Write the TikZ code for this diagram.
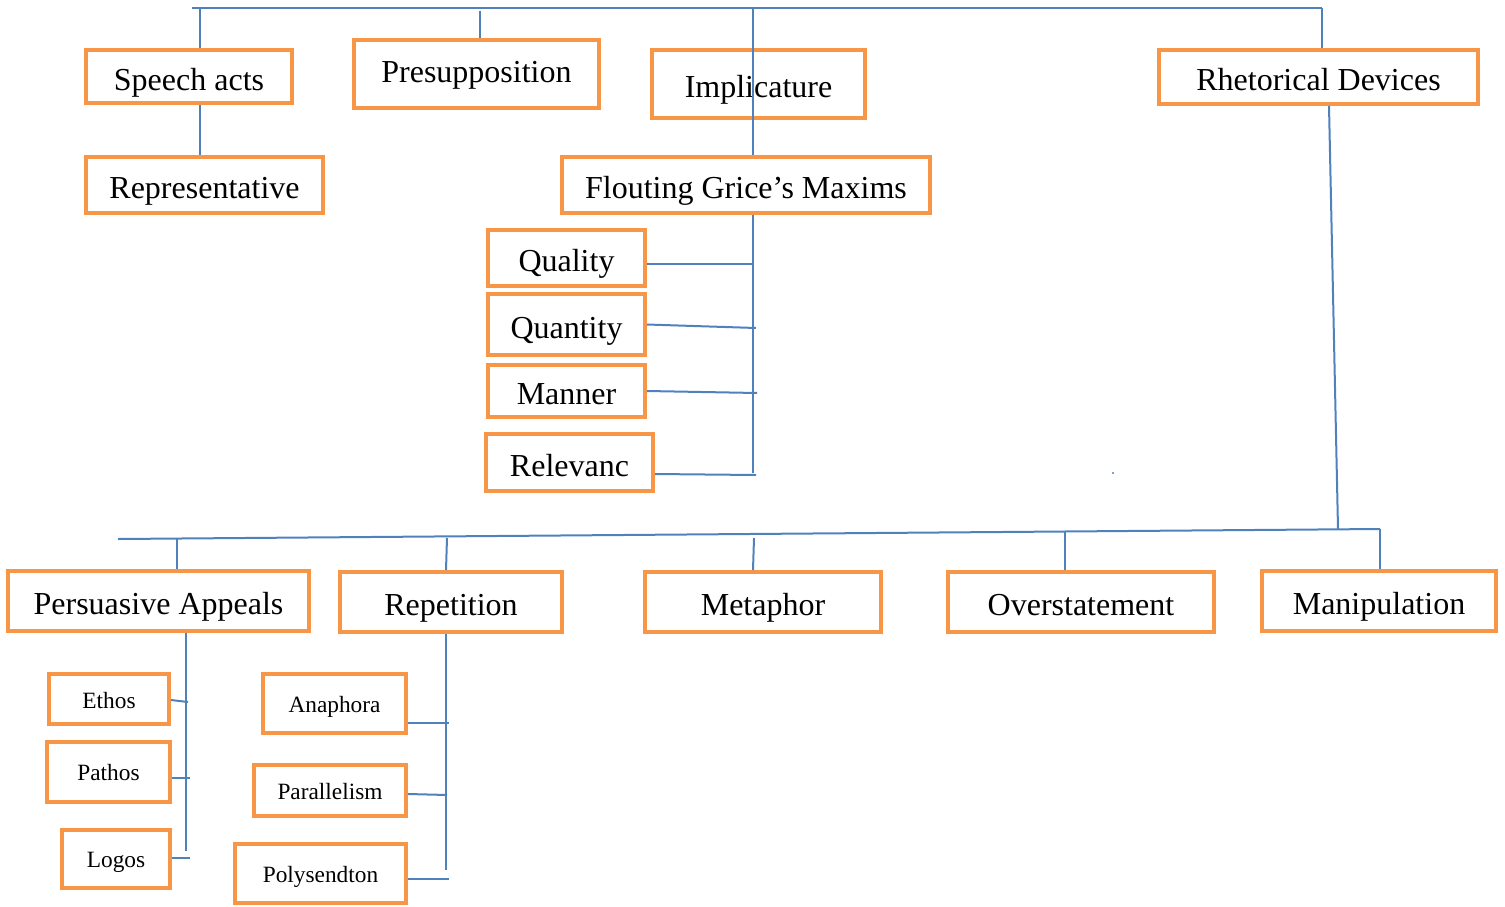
\documentclass[tikz,border=0pt]{standalone}
\usepackage{fontspec}
\setmainfont{Liberation Serif}
\definecolor{boxor}{HTML}{F79646}
\definecolor{lnblue}{HTML}{4F81BD}
\tikzset{
  bx/.style 2 args={draw=boxor, line width=3pt, fill=white, inner sep=0pt,
    minimum width={#1*0.75pt-3pt}, minimum height={#2*0.75pt-3pt},
    text height=21.8pt, text depth=1pt,
    font=\fontsize{24}{28}\selectfont},
  sbx/.style 2 args={bx={#1}{#2}, text height=14.2pt, text depth=1pt,
    font=\fontsize{17.5}{21}\selectfont},
  ln/.style={draw=lnblue, line width=1.5pt}
}
\begin{document}
\begin{tikzpicture}[x=0.75pt,y=-0.75pt]
\useasboundingbox (0,0) rectangle (1505,906);
% top-level nodes
\node[bx={210}{57}] (sa) at (189,76.5) {Speech acts};
\node[bx={249}{72}, text height=14pt] (pre) at (476.5,74) {Presupposition};
\node[bx={217}{72}] (imp) at (758.5,84) {Implicature};
\node[bx={323}{58}] (rd) at (1318.5,77) {Rhetorical Devices};
\node[bx={241}{60}] (rep) at (204.5,185) {Representative};
\node[bx={372}{60}] (fgm) at (746,185) {Flouting Grice’s Maxims};
\node[bx={161}{60}] (qual) at (566.5,258) {Quality};
\node[bx={161}{65}] (quan) at (566.5,324.5) {Quantity};
\node[bx={161}{56}] (man) at (566.5,391) {Manner};
\node[bx={171}{61}] (relv) at (569.5,462.5) {Relevanc};
% second level
\node[bx={305}{64}] (pa) at (158.5,601) {Persuasive Appeals};
\node[bx={226}{64}] (repn) at (451,602) {Repetition};
\node[bx={240}{64}] (met) at (763,602) {Metaphor};
\node[bx={270}{64}] (ovs) at (1081,602) {Overstatement};
\node[bx={238}{64}] (mnp) at (1379,601) {Manipulation};
% small nodes
\node[sbx={124}{54}, text height=15.6pt] (eth) at (109,699) {Ethos};
\node[sbx={127}{64}] (pat) at (108.5,772) {Pathos};
\node[sbx={112}{62}] (logo) at (116,859) {Logos};
\node[sbx={147}{63}] (ana) at (334.5,703.5) {Anaphora};
\node[sbx={156}{55}] (par) at (330,790.5) {Parallelism};
\node[sbx={175}{63}] (pol) at (320.5,873.5) {Polysendton};
% top bus
\coordinate (tbL) at (192,8);
\coordinate (tbR) at (1322,8);
\coordinate (t1) at (200,8);
\coordinate (t2) at (480,11);
\coordinate (t3) at (753,8);
\draw[ln] (tbL) -- (tbR);
\draw[ln] (t1) -- (t1 |- sa.north);
\draw[ln] (t2) -- (t2 |- pre.north);
\draw[ln] (tbR) -- (tbR |- rd.north);
\draw[ln] (t1 |- sa.south) -- (t1 |- rep.north);
\draw[ln] (t3) -- (t3 |- fgm.north);
% grice bus
\coordinate (gb) at (753,473);
\draw[ln] (gb |- fgm.south) -- (gb);
\draw[ln] (qual.east |- 0,264) -- (753,264);
\draw[ln] (quan.east) -- (756,328);
\draw[ln] (man.east) -- (757,393);
\draw[ln] (relv.east |- 0,474) -- (756,475);
% rhetorical bus
\coordinate (rb) at (1338,529);
\coordinate (bbL) at (118,539);
\coordinate (bbR) at (1380,529);
\coordinate (j1) at (177,539);
\coordinate (j2) at (447,538);
\coordinate (j3) at (754,538);
\coordinate (j4) at (1065,531);
\draw[ln] (rd.south -| 1329,0) -- (rb);
\draw[ln] (bbL) -- (bbR);
\draw[ln] (j1) -- (j1 |- pa.north);
\draw[ln] (j2) -- ([xshift=-0.75pt]j2 |- repn.north);
\draw[ln] (j3) -- ([xshift=-0.75pt]j3 |- met.north);
\draw[ln] (j4) -- (j4 |- ovs.north);
\draw[ln] (bbR) -- (bbR |- mnp.north);
\fill[lnblue] (1113,473) circle (1.2);
% persuasive appeals
\coordinate (pb) at (186,851);
\draw[ln] (pb |- pa.south) -- (pb);
\draw[ln] (eth.east |- 0,700) -- (188,702);
\draw[ln] (pat.east |- 0,778) -- (190,778);
\draw[ln] (logo.east |- 0,858) -- (190,858);
% repetition
\coordinate (rpb) at (446,870);
\draw[ln] (rpb |- repn.south) -- (rpb);
\draw[ln] (ana.east |- 0,723) -- (449,723);
\draw[ln] (par.east |- 0,794) -- (447,795);
\draw[ln] (pol.east |- 0,879) -- (449,879);
\end{tikzpicture}
\end{document}
